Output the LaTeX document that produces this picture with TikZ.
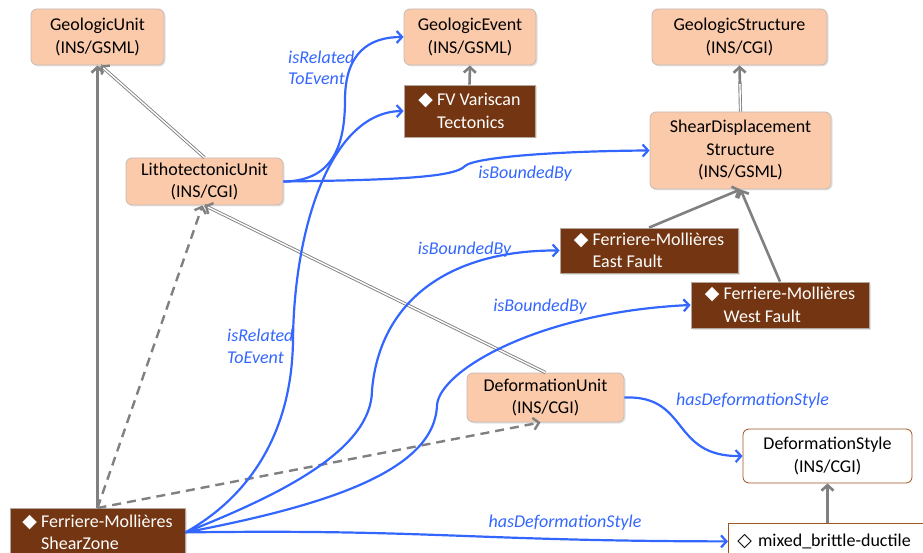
\documentclass[tikz,border=0pt]{standalone}
\usepackage{fontspec}
\setmainfont{Carlito}
\newfontfamily\symfont{DejaVu Sans}
\usetikzlibrary{arrows.meta,shadows,calc,decorations.markings}

\definecolor{peach}{RGB}{250,202,170}
\definecolor{peachline}{RGB}{196,186,180}
\definecolor{brownbox}{RGB}{116,54,18}
\definecolor{brownline}{RGB}{178,168,160}
\definecolor{vocabline}{RGB}{160,84,34}
\definecolor{relblue}{RGB}{51,102,255}
\definecolor{lgray}{RGB}{128,128,128}

% filled and open diamond markers
\newcommand{\fdia}{{\symfont\fontsize{19}{19}\selectfont ◆}}
\newcommand{\odia}{{\symfont\fontsize{19}{19}\selectfont ◇}}

\tikzset{
  boxshadow/.style={drop shadow={opacity=0.22, shadow xshift=1.5pt, shadow yshift=-1.5pt}},
  cls/.style={rectangle, rounded corners=6pt, fill=peach, draw=peachline,
    line width=0.8pt, align=center, inner ysep=2pt, boxshadow},
  vocab/.style={rectangle, rounded corners=6pt, fill=white, draw=vocabline,
    line width=0.8pt, align=center, inner ysep=2pt},
  inst/.style={rectangle, fill=brownbox, draw=brownline, line width=0.8pt,
    text=white, align=left, inner ysep=2pt, boxshadow},
  lbl/.style={text=relblue, inner sep=0pt, font=\fontsize{18}{21.5}\selectfont\itshape},
  tipV/.style={-{Straight Barb[length=5.5pt,width=12pt]}},
  garrow/.style={draw=lgray, line width=2.6pt, tipV},
  gdash/.style={draw=lgray, line width=2.4pt, dash pattern=on 9pt off 6pt, tipV},
  dbl/.style={draw=lgray, double=white, double distance=1.4pt, line width=0.9pt},
  dblarrow/.style={dbl, postaction={decorate}, decoration={markings,
    mark=at position 1 with {\arrow[lgray, line width=2.4pt]{Straight Barb[length=5.5pt,width=12pt]}}}},
  rel/.style={draw=relblue, line width=2.2pt, tipV},
}

\begin{document}
\begin{tikzpicture}[x=1pt, y=-1pt,
  every node/.style={font=\fontsize{18}{22.5}\selectfont}]
\useasboundingbox (0,0) rectangle (923,553);
\clip (0,0) rectangle (923,553);

% classes
\node[cls, minimum width=133pt, minimum height=56pt] (gu) at (97.5,37) {GeologicUnit\\(INS/GSML)};
\node[cls, minimum width=132pt, minimum height=56pt] (ge) at (470,37) {GeologicEvent\\(INS/GSML)};
\node[cls, minimum width=175pt, minimum height=56pt] (gs) at (739.5,37) {GeologicStructure\\(INS/CGI)};
\node[cls, minimum width=181pt, minimum height=77pt] (sds) at (740.5,150.5) {ShearDisplacement\\Structure\\(INS/GSML)};
\node[cls, minimum width=157pt, minimum height=47pt] (lith) at (204.5,181.5) {LithotectonicUnit\\(INS/CGI)};
\node[cls, minimum width=157pt, minimum height=49pt] (defu) at (545.5,397.5) {DeformationUnit\\(INS/CGI)};
\node[vocab, minimum width=169pt, minimum height=54pt] (defs) at (827.5,456) {DeformationStyle\\(INS/CGI)};

% instances
\node[inst, minimum width=131pt, minimum height=52pt] (fv) at (469.5,111)
  {\fdia\ FV Variscan\\\hphantom{\fdia\ }Tectonics};
\node[inst, minimum width=178pt, minimum height=45pt] (east) at (649,250.5)
  {\fdia\ Ferriere-Mollières\\\hphantom{\fdia\ }East Fault};
\node[inst, minimum width=178pt, minimum height=46pt] (west) at (780,305)
  {\fdia\ Ferriere-Mollières\\\hphantom{\fdia\ }West Fault};
\node[inst, anchor=north, minimum width=175pt, minimum height=48pt] (sz) at (97.5,508)
  {\fdia\ Ferriere-Mollières\\\hphantom{\fdia\ }ShearZone};
\node[vocab, rounded corners=0pt, anchor=north west, minimum height=36pt,
  text width=190pt, inner xsep=9pt, align=left] (mix) at (728,523)
  {\odia\ mixed\_brittle-ductile};

% generalisation links
\draw[garrow] (sz.north) -- (gu.south);
\draw[dblarrow] (lith.north) -- ([xshift=3pt]gu.south);
\draw[dblarrow] (defu.north) -- (lith.south);
\draw[dbl, shorten >=16pt] (sds.north) -- (gs.south);
\draw[garrow] ($(sds.north)!0.6!(gs.south)$) -- (gs.south);
\draw[garrow] (fv.north) -- (ge.south);
\draw[garrow] (east.north) -- (sds.south);
\draw[garrow] (west.north) -- (sds.south);
\draw[garrow] (defs.south |- mix.north) -- (defs.south);
\draw[gdash] (sz.north) -- ([xshift=-2pt]lith.south);
\draw[gdash] (sz.north) -- ([xshift=-5pt]defu.south);

% relations
\draw[rel] (lith.east) .. controls (330,181) and (345,150) .. (345,100)
  .. controls (345,52) and (370,37) .. (ge.west);
\draw[rel] (lith.east) .. controls (400,180) and (455,177) .. (465,166)
  .. controls (475,157) and (560,151) .. (sds.west);
\draw[rel] (sz.east) .. controls (252,495) and (292,430) .. (293,340)
  .. controls (294,230) and (330,112) .. (fv.west);
\draw[rel] (sz.east) .. controls (280,495) and (372,450) .. (372,390)
  .. controls (380,300) and (450,250) .. (east.west);
\draw[rel] (sz.east) .. controls (330,505) and (435,470) .. (437,405)
  .. controls (440,370) and (540,312) .. (west.west);
\draw[rel] (sz.east) .. controls (430,529) and (470,541) .. (mix.west);
\draw[rel] (defu.east) .. controls (690,395) and (670,457) .. (defs.west);

% relation labels
\node[lbl, anchor=west, align=left] (rel1) at (288,68) {isRelated\\ToEvent};
\node[lbl, anchor=west, align=left] (rel2) at (227,346.5) {isRelated\\ToEvent};
\node[lbl] (bnd1) at (525,174) {isBoundedBy};
\node[lbl] (bnd2) at (464.5,250) {isBoundedBy};
\node[lbl] (bnd3) at (540,307) {isBoundedBy};
\node[lbl] (hds1) at (752.5,401) {hasDeformationStyle};
\node[lbl] (hds2) at (565,523) {hasDeformationStyle};
\end{tikzpicture}
\end{document}
